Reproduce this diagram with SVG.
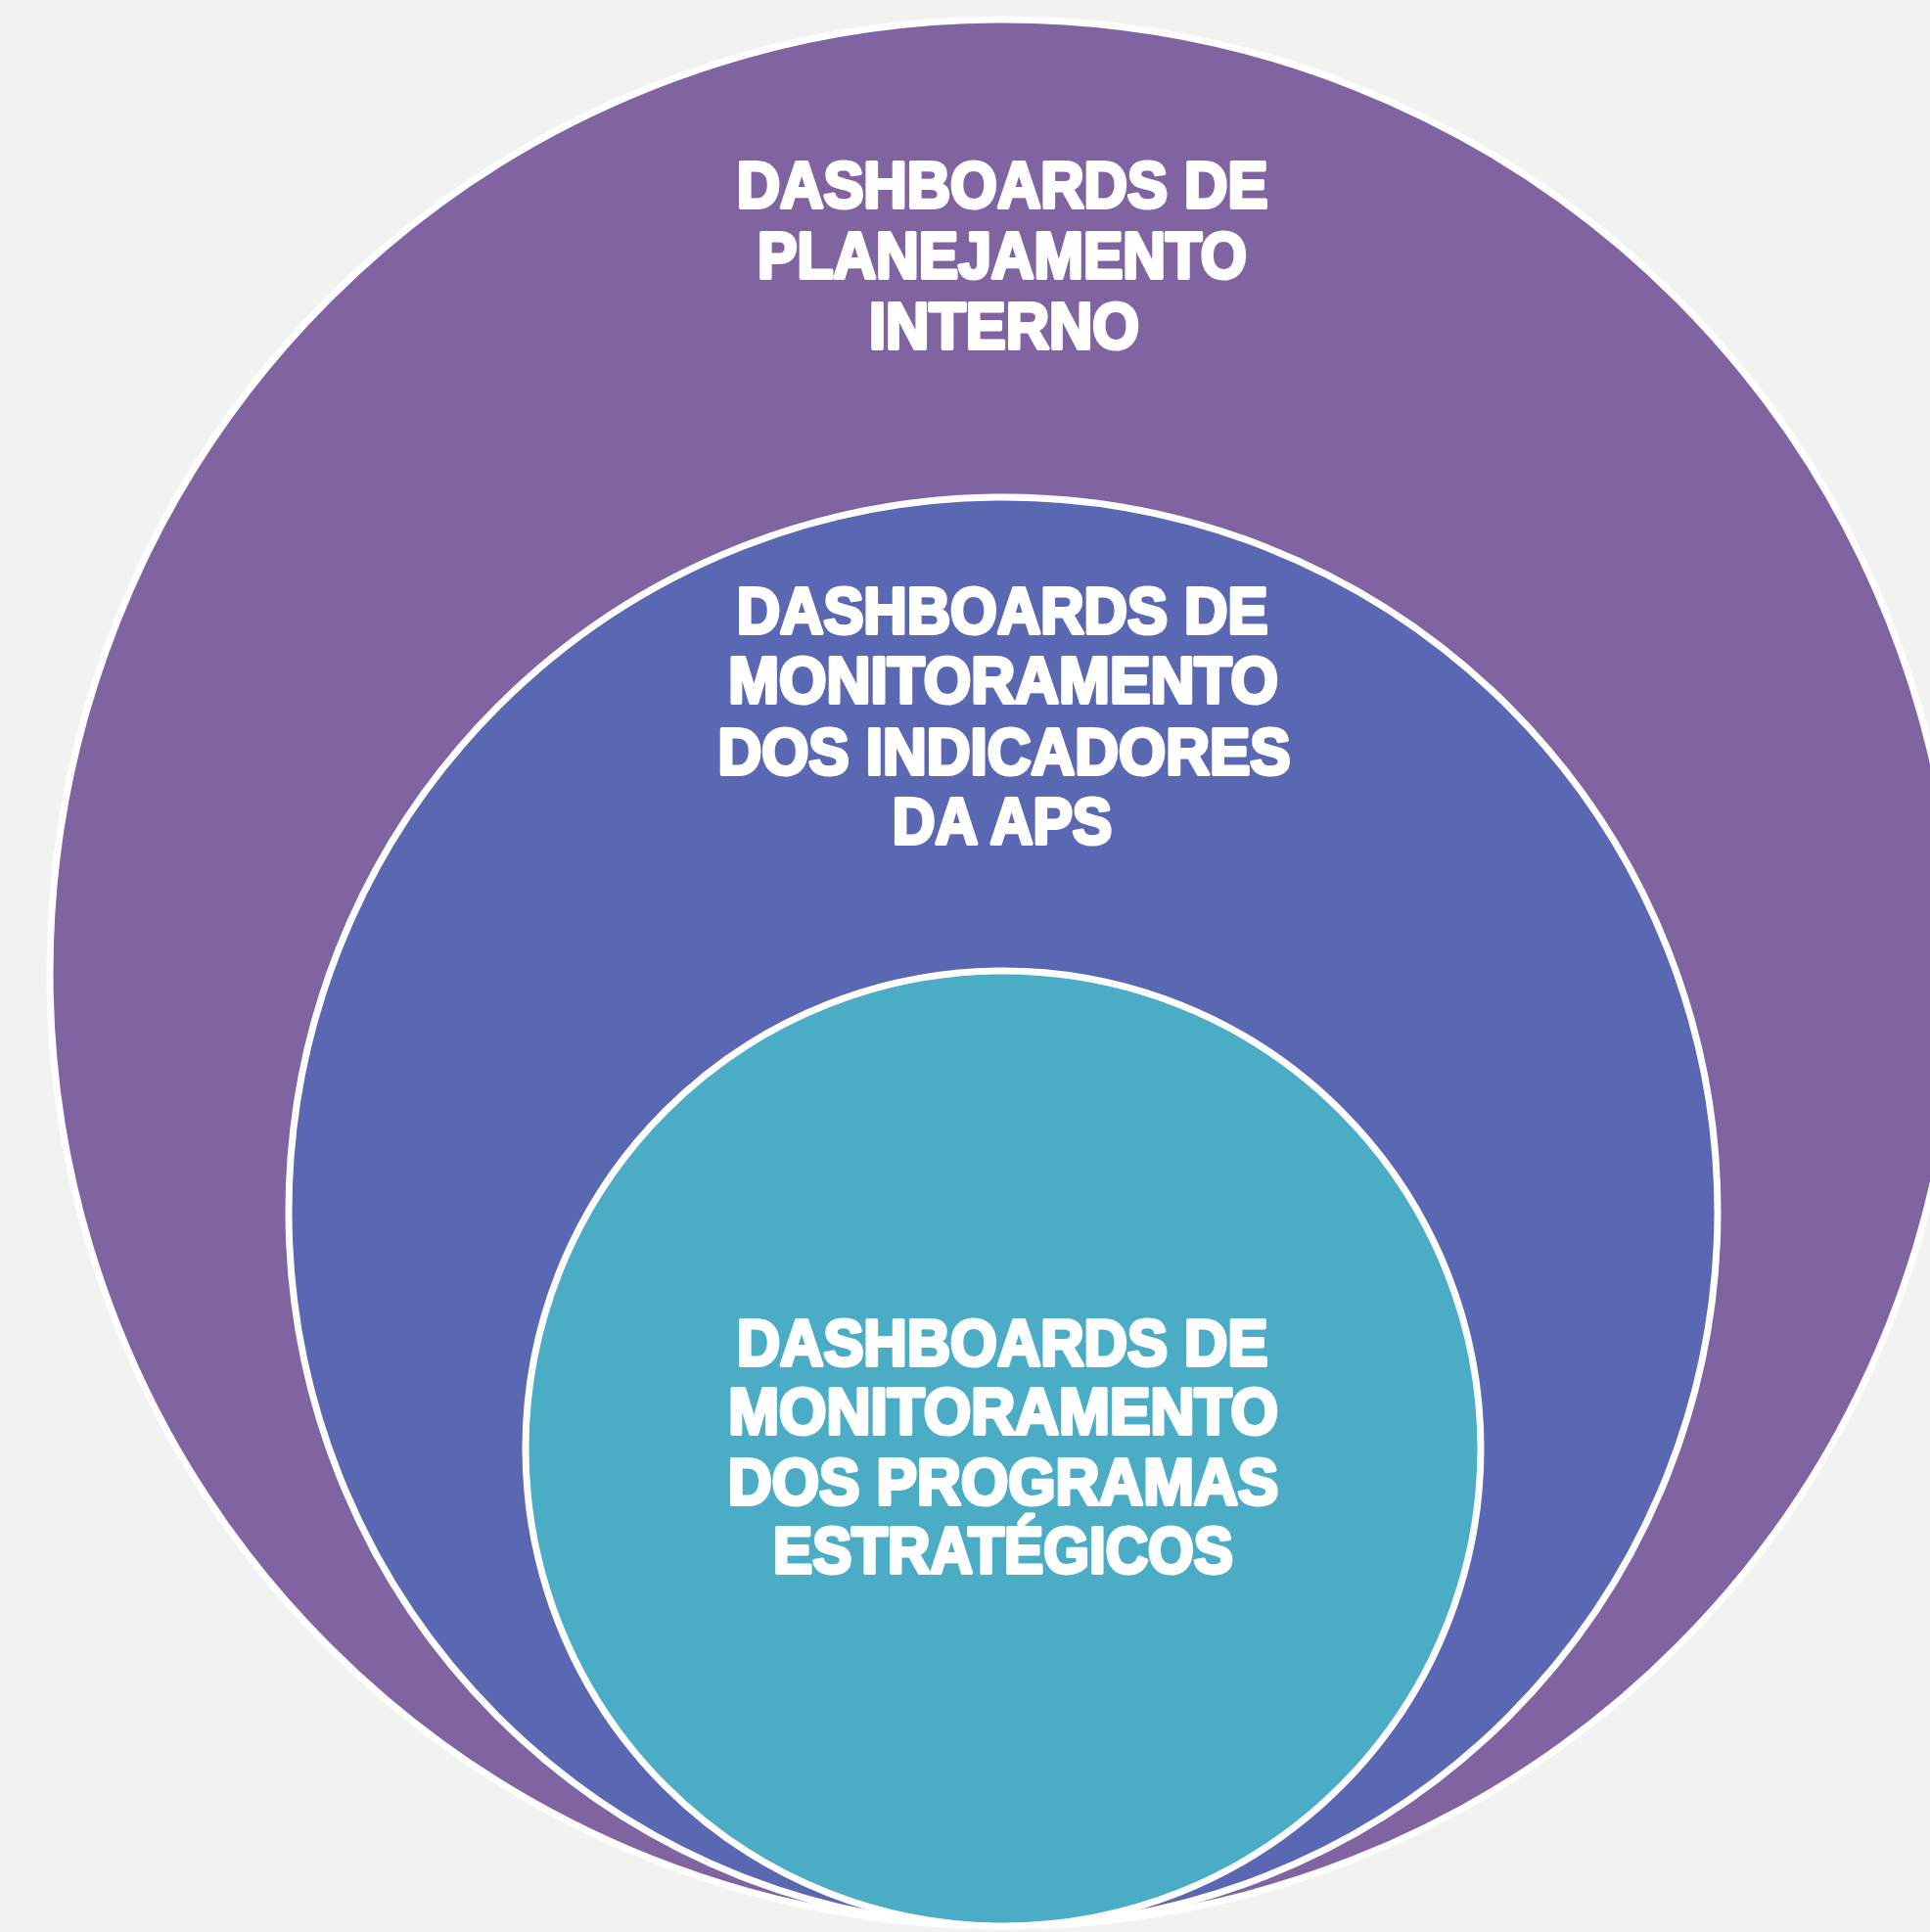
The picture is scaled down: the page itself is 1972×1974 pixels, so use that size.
<svg xmlns="http://www.w3.org/2000/svg" width="1972" height="1974" viewBox="0 0 1972 1974">
<style>
.ring{stroke:#ffffff;stroke-width:7}
.lbl{font-family:"Liberation Sans",Arial,sans-serif;font-weight:bold;font-size:66px;fill:#ffffff;stroke:#ffffff;stroke-width:4;stroke-linejoin:round;text-anchor:middle}
</style>
<rect x="0" y="0" width="1972" height="1974" fill="#f2f2f0"/>
<g id="outer">
<circle class="ring" cx="1025" cy="994" r="974" fill="#8064a2"/>
<text class="lbl" transform="translate(1024,212) scale(0.931,1)">DASHBOARDS DE</text>
<text class="lbl" transform="translate(1024,284) scale(0.917,1)">PLANEJAMENTO</text>
<text class="lbl" transform="translate(1026,356) scale(0.93,1)">INTERNO</text>
</g>
<g id="middle">
<circle class="ring" cx="1025" cy="1238" r="730" fill="#5a67b2"/>
<text class="lbl" transform="translate(1024,647) scale(0.931,1)">DASHBOARDS DE</text>
<text class="lbl" transform="translate(1025,718) scale(0.944,1)">MONITORAMENTO</text>
<text class="lbl" transform="translate(1026,791) scale(0.939,1)">DOS INDICADORES</text>
<text class="lbl" transform="translate(1024,862) scale(0.918,1)">DA APS</text>
</g>
<g id="inner">
<circle class="ring" cx="1025" cy="1480" r="488" fill="#4bacc6"/>
<text class="lbl" transform="translate(1024,1395) scale(0.931,1)">DASHBOARDS DE</text>
<text class="lbl" transform="translate(1025,1465) scale(0.944,1)">MONITORAMENTO</text>
<text class="lbl" transform="translate(1025,1537) scale(0.941,1)">DOS PROGRAMAS</text>
<text class="lbl" transform="translate(1025,1607) scale(0.911,1)">ESTRATÉGICOS</text>
</g>
<g id="connectors"/>
</svg>
